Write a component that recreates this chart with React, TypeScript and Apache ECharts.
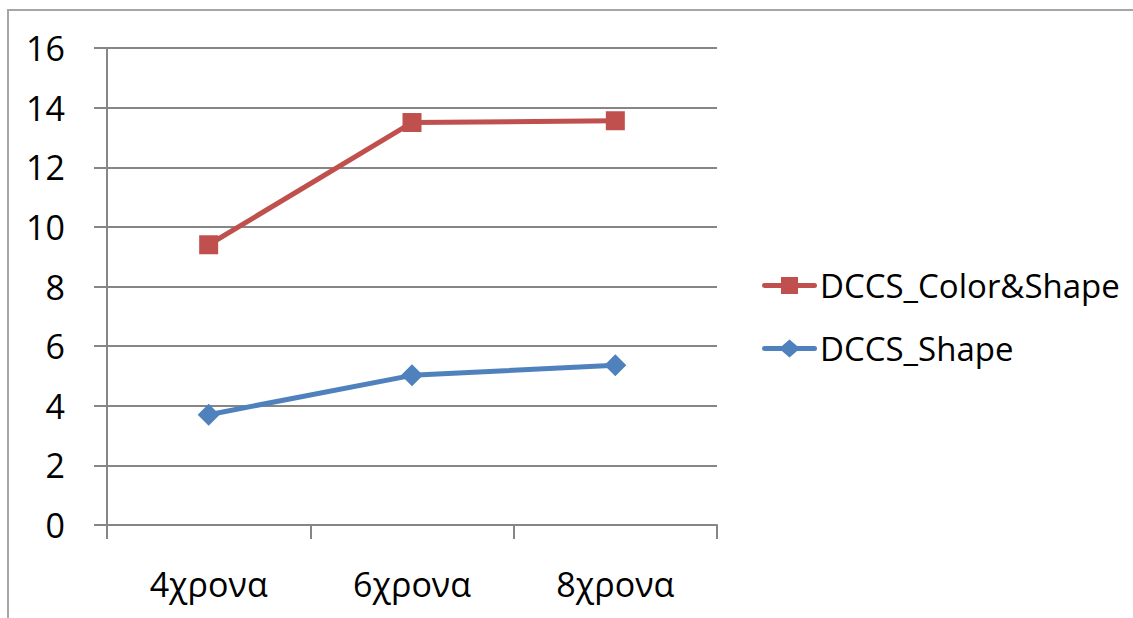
import React, { useEffect, useRef } from "react";
import * as echarts from "echarts";

const categories = ["4χρονα", "6χρονα", "8χρονα"];
const colorShape = [9.4, 13.5, 13.56];
const shapeOnly = [3.7, 5.02, 5.36];
const seriesNames = ["DCCS_Color&Shape", "DCCS_Shape"];

const FONT = "'Open Sans', 'Noto Sans', sans-serif";

const BAR =
  "M2.5,6.5 H52.5 A2.5,2.5 0 0 1 52.5,11.5 H2.5 A2.5,2.5 0 0 1 2.5,6.5 Z";
const ICON_SQUARE = "path://" + BAR + " M19,0.5 H36 V17.5 H19 Z";
const ICON_DIAMOND = "path://" + BAR + " M27.5,0 L38,9 L27.5,18 L17,9 Z";

export default function App() {
  const ref = useRef<HTMLDivElement>(null);
  useEffect(() => {
    if (!ref.current) return;
    const chart = echarts.init(ref.current, undefined, { renderer: "svg" });
    chart.setOption({
      animation: false,
      backgroundColor: "#ffffff",
      graphic: [
        {
          type: "rect",
          shape: { x: 8, y: 10, width: 1300, height: 800 },
          style: { fill: "none", stroke: "#a6a6a6", lineWidth: 2 },
          silent: true,
        },
      ],
      grid: { left: 107, right: 416, top: 48, bottom: 93 },
      legend: {
        orient: "vertical",
        left: 757,
        top: 264,
        itemWidth: 55,
        itemHeight: 18,
        itemGap: 30,
        textStyle: { fontFamily: FONT, fontSize: 33, color: "#000", padding: [0, 0, 0, -2] },
        data: [
          { name: seriesNames[0], icon: ICON_SQUARE },
          { name: seriesNames[1], icon: ICON_DIAMOND },
        ],
      },
      xAxis: {
        type: "category",
        data: categories,
        boundaryGap: true,
        axisLine: { lineStyle: { color: "#868686", width: 2 } },
        axisTick: { show: true, length: 14, lineStyle: { color: "#868686", width: 2 } },
        axisLabel: { fontFamily: FONT, fontSize: 34, color: "#000", margin: 42 },
        splitLine: { show: false },
      },
      yAxis: {
        type: "value",
        min: 0,
        max: 16,
        interval: 2,
        axisLine: { show: true, lineStyle: { color: "#868686", width: 2 } },
        axisTick: { show: true, length: 13, lineStyle: { color: "#868686", width: 2 } },
        axisLabel: { fontFamily: FONT, fontSize: 34, color: "#000", margin: 42 },
        splitLine: { show: true, lineStyle: { color: "#868686", width: 2 } },
      },
      series: [
        {
          name: seriesNames[0],
          type: "line",
          data: colorShape,
          color: "#C0504D",
          symbol: "rect",
          symbolSize: 19,
          lineStyle: { width: 5, color: "#C0504D" },
          itemStyle: { color: "#C0504D" },
        },
        {
          name: seriesNames[1],
          type: "line",
          data: shapeOnly,
          color: "#4F81BD",
          symbol: "diamond",
          symbolSize: 22,
          lineStyle: { width: 5, color: "#4F81BD" },
          itemStyle: { color: "#4F81BD" },
        },
      ],
    });
    return () => chart.dispose();
  }, []);
  return (
    <div
      ref={ref}
      style={{ width: 1133, height: 618, position: "absolute", left: 0, top: 0 }}
    />
  );
}
